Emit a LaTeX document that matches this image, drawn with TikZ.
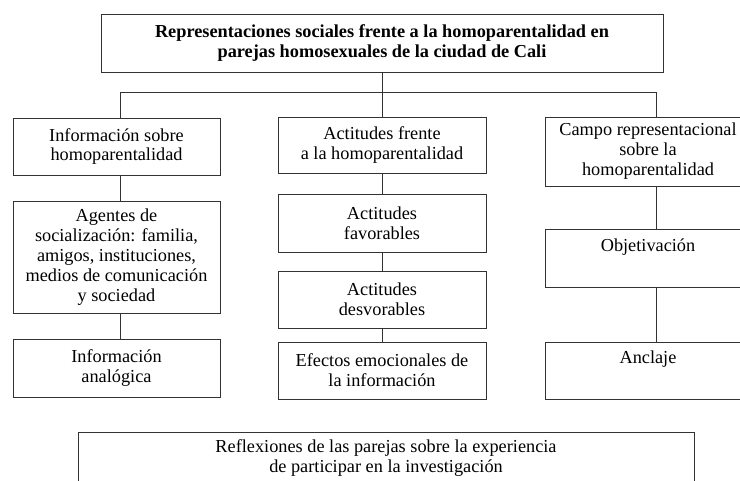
\documentclass[tikz,border=0pt]{standalone}
\usepackage{fontspec}
\setmainfont{Liberation Serif}
\tikzset{
    box/.style={draw=black!80, line width=0.6pt, align=center, inner sep=0pt,
        font=\fontsize{13}{14.2}\selectfont},
    link/.style={draw=black!80, line width=0.6pt},
}
\begin{document}
\begin{tikzpicture}[x=0.025cm, y=-0.025cm]
    \useasboundingbox (0,0) rectangle (740,480);
    \clip (0,0) rectangle (740,480);

    \node [box, minimum width=14.05cm, minimum height=1.45cm, font=\fontsize{13}{14.2}\selectfont\bfseries] (title) at (382,43)
        {Representaciones sociales frente a la homoparentalidad en\\parejas homosexuales de la ciudad de Cali};

    \node [box, minimum width=5.175cm, minimum height=1.425cm] (info) at (116.5,146.5) {Información sobre\\homoparentalidad};
    \node [box, minimum width=5.175cm, minimum height=2.8cm] (agentes) at (116.5,257)
        {Agentes de\\socialización: familia,\\amigos, instituciones,\\medios de comunicación\\y sociedad};
    \node [box, minimum width=5.175cm, minimum height=1.45cm] (analog) at (116.5,368) {Información\\analógica};

    \node [box, minimum width=5.2cm, minimum height=1.4cm] (actit) at (382,145) {Actitudes frente\\a la homoparentalidad};
    \node [box, minimum width=5.2cm, minimum height=1.45cm] (fav) at (382,223) {Actitudes\\favorables};
    \node [box, minimum width=5.2cm, minimum height=1.425cm] (desf) at (382,299.5) {Actitudes\\desvorables};
    \node [box, minimum width=5.2cm, minimum height=1.425cm] (efect) at (382,370.5) {Efectos emocionales de\\la información};

    \node [box, minimum width=5.15cm, minimum height=1.725cm] (campo) at (648,151.5) {Campo representacional\\sobre la\\homoparentalidad};
    \node [box, minimum width=5.15cm, minimum height=1.45cm] (obj) at (648,258) {Objetivación\\\strut};
    \node [box, minimum width=5.15cm, minimum height=1.425cm] (ancl) at (648,370.5) {Anclaje\\\strut};

    \node [box, minimum width=15.4cm, minimum height=1.325cm] (refl) at (386,458.5)
        {Reflexiones de las parejas sobre la experiencia\\de participar en la investigación};

    \coordinate (lcol) at (120,92);
    \coordinate (rcol) at (656,92);

    \draw [link] (title.south) -- (actit.north);
    \draw [link] (lcol |- info.north) -- (lcol) -- (rcol) -- (rcol |- campo.north);
    \draw [link] (lcol |- info.south) -- (lcol |- agentes.north);
    \draw [link] (lcol |- agentes.south) -- (lcol |- analog.north);
    \draw [link] (actit.south) -- (fav.north);
    \draw [link] (fav.south) -- (desf.north);
    \draw [link] (desf.south) -- (efect.north);
    \draw [link] (rcol |- campo.south) -- (rcol |- obj.north);
    \draw [link] (rcol |- obj.south) -- (rcol |- ancl.north);
\end{tikzpicture}
\end{document}
